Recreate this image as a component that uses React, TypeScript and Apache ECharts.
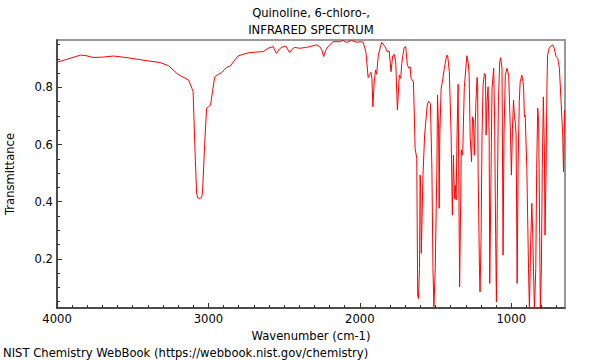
import React, { useEffect, useRef } from "react";
import * as echarts from "echarts";

const wavenumbers = [
  4000, 3846, 3815, 3763, 3700, 3626, 3550, 3472, 3400, 3319, 3263, 3208, 3175, 3131, 3109, 3101,
  3090, 3078, 3070, 3057, 3045, 3039, 3025, 3012, 2998, 2986, 2972, 2958, 2935, 2914, 2895, 2881,
  2855, 2835, 2804, 2760, 2727, 2680, 2639, 2606, 2573, 2551, 2530, 2518, 2490, 2463, 2445, 2430,
  2397, 2353, 2287, 2265, 2250, 2239, 2225, 2210, 2177, 2133, 2111, 2089, 2056, 2023, 1990, 1978,
  1960, 1945, 1934, 1927, 1920, 1914, 1905, 1896, 1889, 1878, 1856, 1834, 1819, 1806, 1794, 1783,
  1773, 1763, 1752, 1739, 1730, 1723, 1708, 1697, 1686, 1675, 1668, 1662, 1646, 1640, 1635, 1624,
  1618, 1613, 1606, 1602, 1598, 1594, 1583, 1572, 1555, 1546, 1534, 1524, 1517, 1511, 1502, 1491,
  1487, 1480, 1476, 1472, 1463, 1453, 1442, 1426, 1420, 1409, 1397, 1389, 1382, 1375, 1369, 1364,
  1358, 1351, 1347, 1341, 1334, 1330, 1321, 1310, 1293, 1284, 1278, 1271, 1262, 1256, 1249, 1244,
  1233, 1226, 1222, 1219, 1210, 1206, 1199, 1193, 1186, 1177, 1170, 1166, 1160, 1153, 1146, 1142,
  1133, 1127, 1116, 1110, 1103, 1098, 1092, 1085, 1076, 1070, 1061, 1054, 1048, 1039, 1028, 1017,
  1005, 999, 992, 985, 979, 972, 968, 961, 955, 947, 941, 930, 919, 913, 908, 897,
  886, 880, 873, 864, 858, 847, 838, 832, 825, 819, 812, 808, 801, 795, 788, 781,
  777, 770, 764, 760, 749, 727, 716, 704, 693, 689, 682, 671, 660, 655, 648,
];

const transmittance = [
  0.888, 0.913, 0.912, 0.905, 0.906, 0.910, 0.905, 0.899, 0.893, 0.887, 0.876, 0.849, 0.838, 0.826, 0.797, 0.785,
  0.600, 0.430, 0.413, 0.411, 0.415, 0.430, 0.600, 0.727, 0.733, 0.738, 0.790, 0.837, 0.846, 0.851, 0.862, 0.870,
  0.875, 0.890, 0.910, 0.918, 0.922, 0.924, 0.925, 0.937, 0.943, 0.919, 0.935, 0.940, 0.945, 0.922, 0.935, 0.940,
  0.937, 0.940, 0.949, 0.943, 0.930, 0.908, 0.930, 0.943, 0.960, 0.960, 0.965, 0.957, 0.965, 0.958, 0.960, 0.958,
  0.925, 0.834, 0.846, 0.853, 0.830, 0.732, 0.820, 0.861, 0.846, 0.913, 0.958, 0.943, 0.925, 0.927, 0.855, 0.911,
  0.916, 0.890, 0.721, 0.843, 0.832, 0.884, 0.939, 0.943, 0.878, 0.867, 0.872, 0.832, 0.820, 0.700, 0.587, 0.552,
  0.073, 0.061, 0.166, 0.493, 0.450, 0.219, 0.493, 0.633, 0.738, 0.752, 0.744, 0.517, 0.166, 0.032, 0.166, 0.517,
  0.773, 0.655, 0.377, 0.633, 0.797, 0.826, 0.867, 0.913, 0.911, 0.855, 0.633, 0.353, 0.563, 0.411, 0.458, 0.406,
  0.633, 0.811, 0.517, 0.102, 0.400, 0.581, 0.563, 0.800, 0.911, 0.885, 0.843, 0.622, 0.540, 0.697, 0.686, 0.563,
  0.750, 0.835, 0.815, 0.517, 0.166, 0.084, 0.282, 0.633, 0.808, 0.849, 0.843, 0.633, 0.750, 0.802, 0.633, 0.114,
  0.517, 0.797, 0.867, 0.692, 0.282, 0.049, 0.400, 0.750, 0.890, 0.904, 0.867, 0.213, 0.633, 0.843, 0.867, 0.843,
  0.633, 0.493, 0.657, 0.756, 0.697, 0.674, 0.633, 0.114, 0.517, 0.750, 0.820, 0.843, 0.808, 0.697, 0.703, 0.517,
  0.166, 0.020, 0.225, 0.394, 0.282, 0.020, 0.166, 0.517, 0.727, 0.680, 0.282, 0.020, 0.166, 0.517, 0.767, 0.575,
  0.283, 0.517, 0.808, 0.913, 0.939, 0.949, 0.937, 0.908, 0.902, 0.890, 0.867, 0.750, 0.633, 0.505, 0.721,
];

const xMajorTicks = [4000, 3000, 2000, 1000];
const xMinorTicks = [
  3900, 3800, 3700, 3600, 3500, 3400, 3300, 3200, 3100, 2900, 2800, 2700, 2600, 2500, 2400, 2300,
  2200, 2100, 1900, 1800, 1700, 1600, 1500, 1400, 1300, 1200, 1100, 900, 800, 700,
];
const yMajorTicks = [0.2, 0.4, 0.6, 0.8];
const yMinorTicks = [0.05, 0.1, 0.15, 0.25, 0.3, 0.35, 0.45, 0.5, 0.55, 0.65, 0.7, 0.75, 0.85, 0.9, 0.95];

const titleLines = ["Quinoline, 6-chloro-,", "INFRARED SPECTRUM"];
const xAxisName = "Wavenumber (cm-1)";
const yAxisName = "Transmittance";
const footerText = "NIST Chemistry WebBook (https://webbook.nist.gov/chemistry)";

const X_MIN = 645;
const X_MAX = 4000;
const Y_MIN = 0.028;
const Y_MAX = 0.966;

export default function App() {
  const ref = useRef<HTMLDivElement>(null);

  useEffect(() => {
    if (!ref.current) return;
    const chart = echarts.init(ref.current, null, { renderer: "svg" });
    const font = "DejaVu Sans";
    const fs = 11.6;
    const axisColor = "#333333";
    const data = wavenumbers.map((w, i) => [w, transmittance[i]]);

    const baseX = {
      type: "value",
      inverse: true,
      min: X_MIN,
      max: X_MAX,
      position: "bottom",
      splitLine: { show: false },
    };
    const baseY = {
      type: "value",
      min: Y_MIN,
      max: Y_MAX,
      position: "left",
      splitLine: { show: false },
    };

    chart.setOption({
      animation: false,
      textStyle: { fontFamily: font },
      grid: {
        left: 57,
        right: 35,
        top: 40,
        bottom: 52,
        show: true,
        containLabel: false,
        outerBoundsMode: "none",
        borderColor: "#999999",
        borderWidth: 2,
        backgroundColor: "transparent",
      },
      xAxis: [
        {
          ...baseX,
          axisLine: { show: true, onZero: false, lineStyle: { color: axisColor, width: 1.5 } },
          axisTick: {
            show: true,
            inside: true,
            length: 5,
            customValues: xMajorTicks,
            lineStyle: { color: axisColor },
          },
          axisLabel: {
            customValues: xMajorTicks,
            formatter: (v: number) => String(v),
            color: "#000",
            fontSize: fs,
            fontFamily: font,
            margin: 5,
          },
          name: xAxisName,
          nameLocation: "middle",
          nameGap: 18,
          nameTextStyle: { color: "#000", fontSize: fs, fontFamily: font },
        },
        {
          ...baseX,
          axisLine: { show: false, onZero: false },
          axisTick: {
            show: true,
            inside: true,
            length: 3,
            customValues: xMinorTicks,
            lineStyle: { color: axisColor },
          },
          axisLabel: { show: false },
        },
      ],
      yAxis: [
        {
          ...baseY,
          axisLine: { show: true, onZero: false, lineStyle: { color: axisColor, width: 1.5 } },
          axisTick: {
            show: true,
            inside: true,
            length: 5,
            customValues: yMajorTicks,
            lineStyle: { color: axisColor },
          },
          axisLabel: {
            customValues: yMajorTicks,
            formatter: (v: number) => v.toFixed(1),
            color: "#000",
            fontSize: fs,
            fontFamily: font,
            margin: 4,
          },
          name: yAxisName,
          nameLocation: "middle",
          nameGap: 41,
          nameTextStyle: { color: "#000", fontSize: fs, fontFamily: font },
        },
        {
          ...baseY,
          axisLine: { show: false, onZero: false },
          axisTick: {
            show: true,
            inside: true,
            length: 3,
            customValues: yMinorTicks,
            lineStyle: { color: axisColor },
          },
          axisLabel: { show: false },
        },
      ],
      series: [
        {
          type: "line",
          data,
          xAxisIndex: 0,
          yAxisIndex: 0,
          showSymbol: false,
          symbol: "none",
          clip: true,
          lineStyle: { color: "#ff0000", width: 1 },
        },
      ],
      graphic: [
        {
          type: "text",
          x: 311,
          y: 13,
          style: {
            text: titleLines[0],
            font: `${fs}px '${font}'`,
            fill: "#000",
            textAlign: "center",
            textVerticalAlign: "middle",
          },
        },
        {
          type: "text",
          x: 311,
          y: 30,
          style: {
            text: titleLines[1],
            font: `${fs}px '${font}'`,
            fill: "#000",
            textAlign: "center",
            textVerticalAlign: "middle",
          },
        },
        {
          type: "text",
          x: 3,
          y: 353,
          style: {
            text: footerText,
            font: `${fs}px '${font}'`,
            fill: "#000",
            textAlign: "left",
            textVerticalAlign: "middle",
          },
        },
      ],
    });

    return () => chart.dispose();
  }, []);

  return (
    <div
      ref={ref}
      style={{ position: "absolute", left: 0, top: 0, width: 600, height: 360 }}
    />
  );
}
